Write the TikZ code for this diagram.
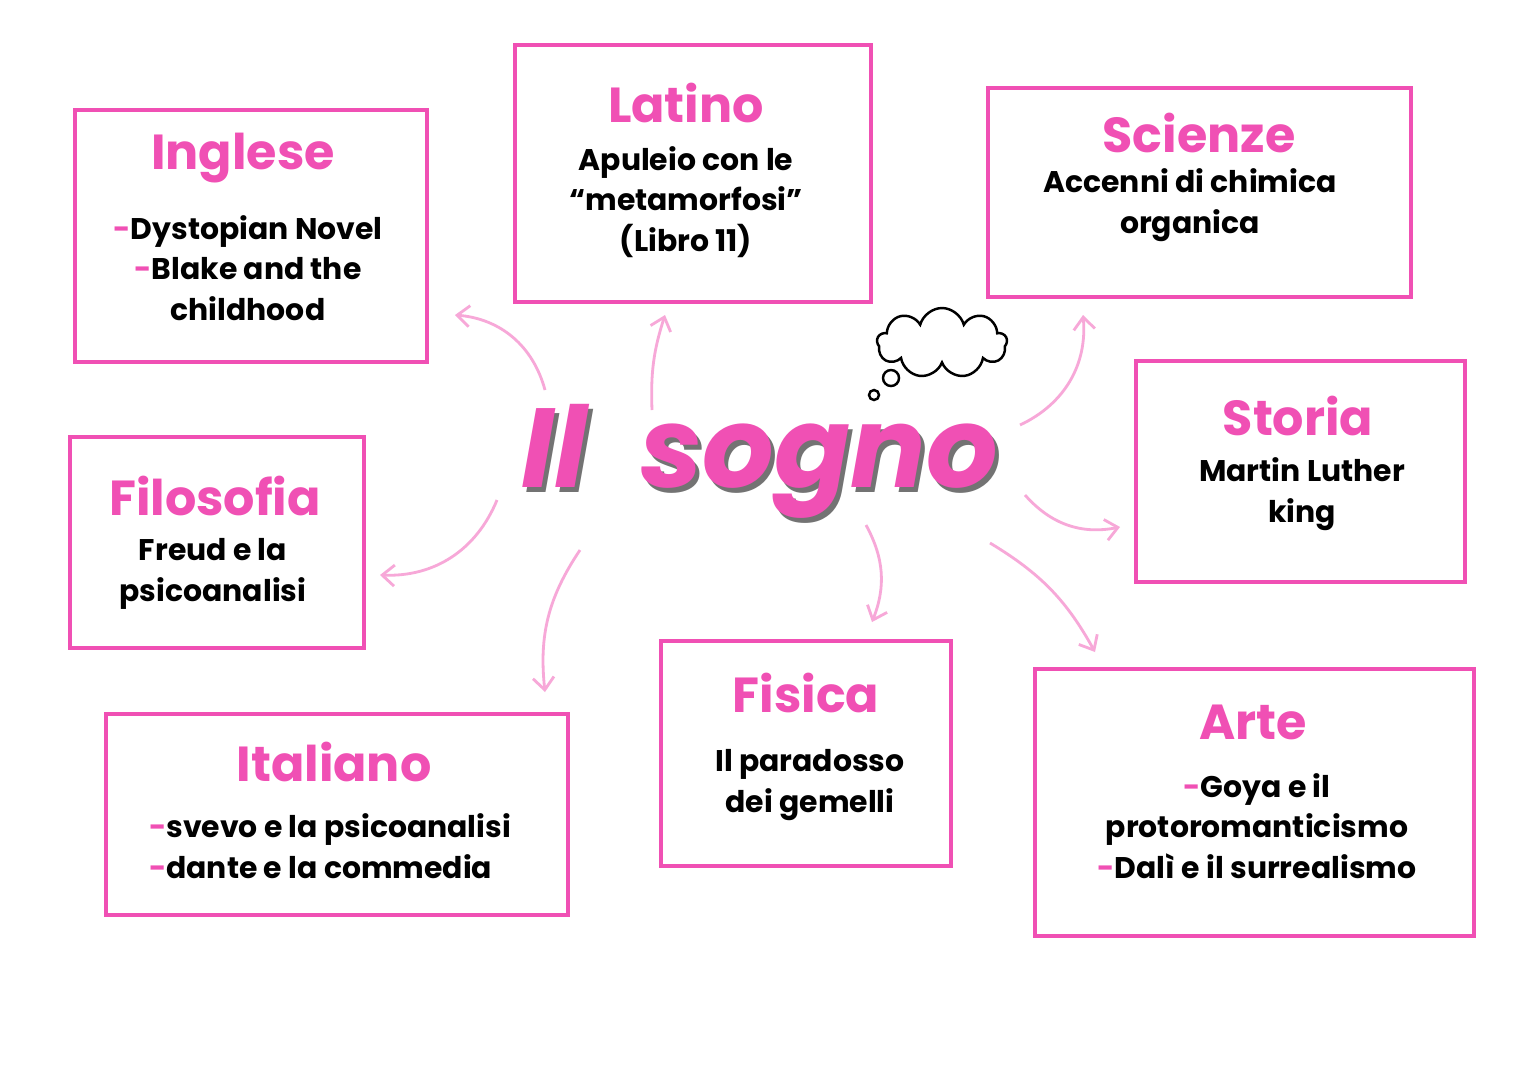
\documentclass[tikz,border=0pt]{standalone}
\usepackage{fontspec}
\setmainfont{Poppins}
\usetikzlibrary{arrows.meta,shapes.symbols}
\definecolor{pk}{HTML}{F050B4}
\definecolor{lpk}{HTML}{F7A8D8}
\tikzset{x=0.02cm,y=-0.02cm,
 box/.style={draw=pk,line width=2.4pt,fill=white},
 hd/.style={text=pk,font=\fontsize{28}{30}\selectfont\bfseries},
 bd/.style={align=center,font=\fontsize{17}{23}\selectfont\bfseries},
 ttl/.style={font=\fontsize{64}{66}\selectfont\bfseries\itshape\rmfamily},
 arr/.style={draw=lpk,line width=1.6pt,-{Straight Barb[length=7pt,width=12pt]}}}
\begin{document}
\begin{tikzpicture}
\path[use as bounding box,fill=white] (0,0) rectangle (1527,1080);
% boxes
\draw[box] (75,110) rectangle (427,362);
\draw[box] (515,45) rectangle (871,302);
\draw[box] (988,88) rectangle (1411,297);
\draw[box] (70,437) rectangle (364,648);
\draw[box] (1136,361) rectangle (1465,582);
\draw[box] (106,714) rectangle (568,915);
\draw[box] (661,641) rectangle (951,866);
\draw[box] (1035,669) rectangle (1474,936);
% texts
\node[hd] (ingh) at (243,158) {Inglese};
\node[bd] (ingb) at (248,268) {\textcolor{pk}{-}Dystopian Novel\\\textcolor{pk}{-}Blake and the\\childhood};
\node[hd] (lath) at (686,103) {Latino};
\node[bd] (latb) at (686,202) {Apuleio con le\\“metamorfosi”\\(Libro 11)};
\node[hd] (scih) at (1199,133) {Scienze};
\node[bd] (scib) at (1190,205) {Accenni di chimica\\organica};
\node[hd] (filh) at (215,496) {Filosofia};
\node[bd] (filb) at (213,574) {Freud e la\\psicoanalisi};
\node[hd] (stoh) at (1298,416) {Storia};
\node[bd] (stob) at (1302,494) {Martin Luther\\king};
\node[hd] (itah) at (334,762) {Italiano};
\node[bd,align=left] (itab) at (330,846) {\textcolor{pk}{-}svevo e la psicoanalisi\\\textcolor{pk}{-}dante e la commedia};
\node[hd] (fish) at (806,693) {Fisica};
\node[bd] (fisb) at (810,785) {Il paradosso\\dei gemelli};
\node[hd] (arth) at (1253,722) {Arte};
\node[bd] (artb) at (1257,826) {\textcolor{pk}{-}Goya e il\\protoromanticismo\\\textcolor{pk}{-}Dalì e il surrealismo};
% title
\node[ttl,text=black!55] (shadow) at (764,466) {Il\ \ sogno};
\node[ttl,text=pk] (title) at (760,461) {Il\ \ sogno};
% cloud
\node[cloud,cloud puffs=9,draw,line width=1.4pt,minimum width=2.6cm,minimum height=1.4cm,aspect=1.8] (cloud) at (942,343) {};
\node[circle,draw,line width=1.4pt,minimum size=0.32cm,inner sep=0] (c1) at (891,378) {};
\node[circle,draw,line width=1.4pt,minimum size=0.2cm,inner sep=0] (c2) at (874,395) {};
% arrows
\coordinate (a1) at (545,390); \coordinate (b1) at (455,315);
\coordinate (a2) at (652,410); \coordinate (b2) at (665,315);
\coordinate (a3) at (497,500); \coordinate (b3) at (380,575);
\coordinate (a4) at (580,550); \coordinate (b4) at (545,692);
\coordinate (a5) at (866,525); \coordinate (b5) at (872,622);
\coordinate (a6) at (990,543); \coordinate (b6) at (1095,652);
\coordinate (a7) at (1025,495); \coordinate (b7) at (1120,527);
\coordinate (a8) at (1020,425); \coordinate (b8) at (1083,315);
\draw[arr] (a1) to[bend right=35] (b1);
\draw[arr] (a2) to[bend left=10] (b2);
\draw[arr] (a3) to[bend left=35] (b3);
\draw[arr] (a4) to[bend right=20] (b4);
\draw[arr] (a5) to[bend left=25] (b5);
\draw[arr] (a6) to[bend left=15] (b6);
\draw[arr] (a7) to[bend right=30] (b7);
\draw[arr] (a8) to[bend right=35] (b8);
\end{tikzpicture}
\end{document}
